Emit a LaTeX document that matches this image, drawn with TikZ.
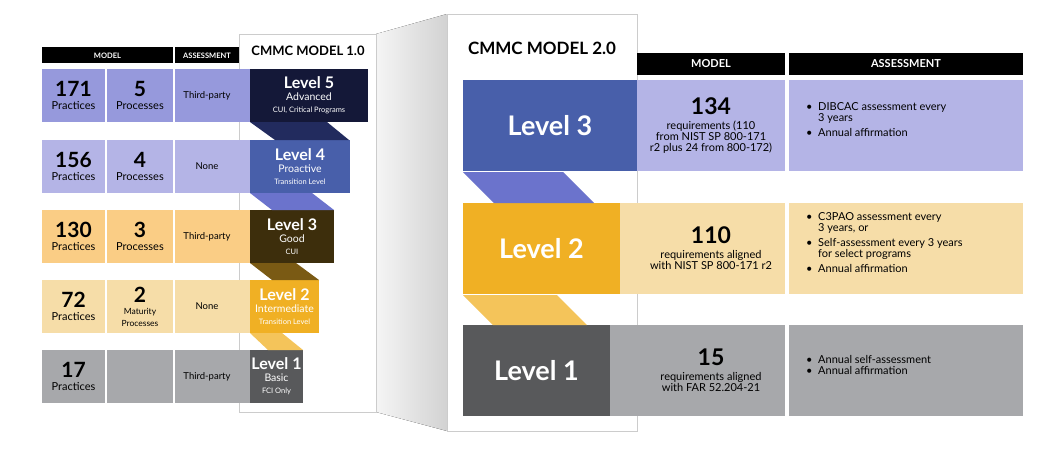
\documentclass[tikz,border=0pt]{standalone}
\usepackage{fontspec}
\setmainfont{Lato}
\usepackage{xcolor}
\usetikzlibrary{positioning, calc}

\definecolor{lvfive}{HTML}{141838}
\definecolor{lvfour}{HTML}{485FAA}
\definecolor{lvthree}{HTML}{3D2E0C}
\definecolor{lvtwo}{HTML}{F0B024}
\definecolor{lvone}{HTML}{58595B}
\definecolor{rowa}{HTML}{9699DC}
\definecolor{rowb}{HTML}{B4B4E6}
\definecolor{rowc}{HTML}{FACD85}
\definecolor{rowd}{HTML}{F6DDA8}
\definecolor{rowe}{HTML}{A7A8AB}
\definecolor{chva}{HTML}{222B5E}
\definecolor{chvb}{HTML}{6B73CC}
\definecolor{chvc}{HTML}{7A5A14}
\definecolor{chvd}{HTML}{F4C45A}

\newcommand{\fsz}[1]{\fontsize{#1}{#1}\selectfont}

\tikzset{
  cell/.style={inner sep=0, align=center, font=\fsz{11}},
  head/.style={fill=black, text=white, font=\bfseries\fsz{7.5}, inner sep=0},
  frame/.style={draw=gray!40, fill=white, line width=0.8pt},
}

\begin{document}
\begin{tikzpicture}[x=1pt, y=-1pt]
\useasboundingbox (0,0) rectangle (1041,451);

% shadow and frames
\fill[left color=gray!8, right color=gray!35] (376,34) -- (447,14) -- (447,431) -- (376,412) -- cycle;
\draw[frame] (239,34) rectangle (376,412);
\draw[frame] (447,14) rectangle (637,431);
\node[font=\bfseries\fsz{13}] (title1) at (308,51) {CMMC MODEL 1.0};
\node[font=\bfseries\fsz{17}] (title2) at (542,48) {CMMC MODEL 2.0};

% model 1.0 headers
\fill[head] (42,47) rectangle (173,63);
\node[head] (h1model) at (107.5,56) {MODEL};
\fill[head] (175,47) rectangle (239,63);
\node[head] (h1assess) at (207,56) {ASSESSMENT};

% model 1.0 rows
\foreach \y/\rc/\lc/\le/\num/\proc/\ass/\lv/\sub/\note in {
  69/rowa/lvfive/368/171/{{\fsz{21}\bfseries 5}\\[2pt]Processes}/Third-party/5/Advanced/{CUI, Critical Programs},
  140/rowb/lvfour/350/156/{{\fsz{21}\bfseries 4}\\[2pt]Processes}/None/4/Proactive/{Transition Level},
  210/rowc/lvthree/334/130/{{\fsz{21}\bfseries 3}\\[2pt]Processes}/Third-party/3/Good/CUI,
  280/rowd/lvtwo/319/72/{{\fsz{21}\bfseries 2}\\[1pt]{\fsz{8.5}Maturity}\\[1pt]{\fsz{8.5}Processes}}/None/2/Intermediate/{Transition Level},
  350/rowe/lvone/303/17/{}/Third-party/1/Basic/{FCI Only}} {
  \fill[\rc] (42,\y) rectangle (105,\y+53);
  \fill[\rc] (107,\y) rectangle (173,\y+53);
  \fill[\rc] (175,\y) rectangle (250,\y+53);
  \node[cell] (prac\lv) at (73.5,\y+26.5) {{\fsz{21}\bfseries \num}\\[2pt]Practices};
  \node[cell] (proc\lv) at (140,\y+26.5) {\proc};
  \node[cell, font=\fsz{9.5}] (ass\lv) at (207,\y+26.5) {\ass};
  \fill[\lc] (250,\y) rectangle (\le,\y+53);
  \node[cell, text=white] (lvl\lv) at ({(250+\le)/2},\y+26.5)
    {{\fsz{16}\bfseries Level \lv}\\[1pt]{\fsz{10.5}\sub}\\[1pt]{\fsz{7.5}\note}};
}

% model 1.0 chevrons
\fill[chva] (250,122) -- (327,122) -- (349,140) -- (275,140) -- cycle;
\fill[chvb] (250,193) -- (312,193) -- (334,210) -- (272,210) -- cycle;
\fill[chvc] (250,263) -- (296,263) -- (319,280) -- (272,280) -- cycle;
\fill[chvd] (250,333) -- (282,333) -- (303,350) -- (268,350) -- cycle;

% model 2.0 headers
\fill[head] (637,53) rectangle (785,75);
\node[head, font=\bfseries\fsz{11}] (h2model) at (711,64) {MODEL};
\fill[head] (789,53) rectangle (1023,75);
\node[head, font=\bfseries\fsz{11}] (h2assess) at (906,64) {ASSESSMENT};

% model 2.0 rows
\foreach \y/\rc/\lc/\le/\lv/\num/\req/\ass in {
  80/rowb/lvfour/637/3/134/{requirements (110\\from NIST SP 800-171\\r2 plus 24 from 800-172)}/{\textbullet\ \ DIBCAC assessment every\\\phantom{\textbullet\ \ }3 years\\[4pt]\textbullet\ \ Annual affirmation},
  203/rowd/lvtwo/620/2/110/{requirements aligned\\with NIST SP 800-171 r2}/{\textbullet\ \ C3PAO assessment every\\\phantom{\textbullet\ \ }3 years, or\\[4pt]\textbullet\ \ Self-assessment every 3 years\\\phantom{\textbullet\ \ }for select programs\\[4pt]\textbullet\ \ Annual affirmation},
  325/rowe/lvone/610/1/15/{requirements aligned\\with FAR 52.204-21}/{\textbullet\ \ Annual self-assessment\\\textbullet\ \ Annual affirmation}} {
  \fill[\rc] (\le,\y) rectangle (785,\y+91);
  \fill[\rc] (789,\y) rectangle (1023,\y+91);
  \fill[\lc] (463,\y) rectangle (\le,\y+91);
  \node[cell, text=white, font=\bfseries\fsz{27}] (big\lv) at ({(463+\le)/2},\y+45.5) {Level \lv};
  \node[cell, font=\fsz{11}, align=center] (req\lv) at (711,\y+45.5) {{\fsz{23}\bfseries \num}\\[4pt]\req};
  \node[cell, font=\fsz{11}, align=left, anchor=west] (asm\lv) at (806,\y+40) {\ass};
}

% model 2.0 chevrons
\fill[chvb] (463,172) -- (563,172) -- (594,203) -- (494,203) -- cycle;
\fill[chvd] (463,295) -- (557,295) -- (587,325) -- (493,325) -- cycle;
\draw[gray!40, line width=0.8pt] (637,14) -- (637,53);
\end{tikzpicture}
\end{document}
